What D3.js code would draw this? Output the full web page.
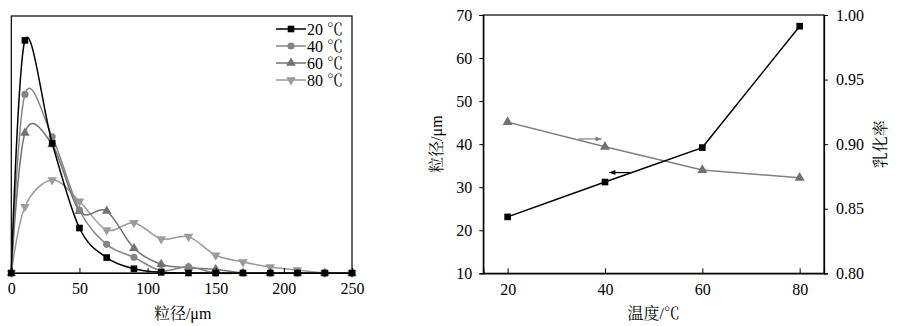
<!DOCTYPE html>
<html>
<head>
<meta charset="utf-8">
<script src="https://cdn.jsdelivr.net/npm/d3@7/dist/d3.min.js"></script>
<style>
  html, body { margin: 0; padding: 0; background: #fff; }
  svg { display: block; }
</style>
</head>
<body>
<svg id="chart" width="899" height="326"></svg>
<script>
// ---- Particle size distribution at different temperatures ----
const sizes = [0, 10, 30, 50, 70, 90, 110, 130, 150, 170, 190, 210, 230, 250];
const dist20 = [0, 18.1, 10.1, 3.5, 1.2, 0.33, 0.05, 0, 0, 0, 0, 0, 0, 0];
const dist40 = [0, 13.9, 10.6, 4.9, 2.23, 1.22, 0.18, 0.49, 0, 0, 0, 0, 0, 0];
const dist60 = [0, 10.9, 10.0, 4.8, 4.82, 1.92, 0.68, 0.41, 0.29, 0, 0, 0, 0, 0];
const dist80 = [0, 5.16, 7.24, 5.58, 3.35, 3.91, 2.65, 2.83, 1.38, 0.86, 0.47, 0.23, 0, 0];
const distLabels = ["20 \u2103", "40 \u2103", "60 \u2103", "80 \u2103"];
const sizeTicks = [0, 50, 100, 150, 200, 250];

// ---- Mean particle size and emulsification rate vs temperature ----
const temps = [20, 40, 60, 80];
const meanSize = [23.1, 31.2, 39.2, 67.4];
const emulsRate = [0.917, 0.898, 0.880, 0.874];
const tempTicks = [20, 40, 60, 80];
const sizeAxisTicks = [10, 20, 30, 40, 50, 60, 70];
const rateAxisTicks = [0.80, 0.85, 0.90, 0.95, 1.00];

const FONT = "'Liberation Serif', 'Noto Serif CJK SC', serif";
const FS = 16;

const svg = d3.select("#chart");
svg.append("rect").attr("width", 899).attr("height", 326).attr("fill", "#fff");

function styleText(sel) {
  return sel.style("font-family", FONT).style("font-size", FS + "px").style("fill", "#000");
}

// ================= Left panel =================
const L = { left: 11.3, right: 352, top: 16, bottom: 273 };
const xL = d3.scaleLinear().domain([0, 250]).range([L.left, L.right]);
const yL = d3.scaleLinear().domain([0, 20]).range([L.bottom, L.top]);

const gL = svg.append("g");

// frame
gL.append("rect")
  .attr("x", L.left).attr("y", L.top)
  .attr("width", L.right - L.left).attr("height", L.bottom - L.top)
  .attr("fill", "none").attr("stroke", "#000").attr("stroke-width", 1.2);

const seriesL = [
  { name: distLabels[0], values: dist20, color: "#000000", sym: d3.symbolSquare, size: 44, rot: 0 },
  { name: distLabels[1], values: dist40, color: "#858585", sym: d3.symbolCircle, size: 40, rot: 0 },
  { name: distLabels[2], values: dist60, color: "#727272", sym: d3.symbolTriangle, size: 40, rot: 0 },
  { name: distLabels[3], values: dist80, color: "#9b9b9b", sym: d3.symbolTriangle, size: 40, rot: 180 }
];

const lineL = d3.line()
  .x((d, i) => xL(sizes[i]))
  .y(d => yL(d))
  .curve(d3.curveCardinal.tension(0));

// draw in reverse so the black series is on top
seriesL.slice().reverse().forEach(s => {
  gL.append("path")
    .datum(s.values)
    .attr("d", lineL)
    .attr("fill", "none")
    .attr("stroke", s.color)
    .attr("stroke-width", 1.5);
  gL.selectAll(null)
    .data(s.values)
    .enter().append("path")
    .attr("d", d3.symbol().type(s.sym).size(s.size))
    .attr("transform", (d, i) => `translate(${xL(sizes[i])},${yL(d)}) rotate(${s.rot})`)
    .attr("fill", s.color);
});

// x axis with inward ticks
const axL = d3.axisBottom(xL).tickValues(sizeTicks).tickSize(-5).tickPadding(10).tickFormat(d3.format("d"));
const gAxL = gL.append("g").attr("transform", `translate(0,${L.bottom})`).call(axL);
gAxL.select(".domain").attr("stroke", "#000").attr("stroke-width", 1.2);
gAxL.selectAll(".tick line").attr("stroke", "#000");
styleText(gAxL.selectAll(".tick text"));

styleText(gL.append("text")
  .attr("x", (L.left + L.right) / 2 + 1).attr("y", 319)
  .attr("text-anchor", "middle")
  .text("粒径/μm"));

// legend
const legY = [29, 46, 63, 80];
seriesL.forEach((s, i) => {
  const g = gL.append("g").attr("transform", `translate(0,${legY[i]})`);
  g.append("line").attr("x1", 276).attr("x2", 306).attr("y1", 0).attr("y2", 0)
    .attr("stroke", s.color).attr("stroke-width", 1.5);
  g.append("path").attr("d", d3.symbol().type(s.sym).size(s.size))
    .attr("transform", `translate(291,0) rotate(${s.rot})`).attr("fill", s.color);
  styleText(g.append("text").attr("x", 307).attr("y", 5.5).text(s.name));
});

// ================= Right panel =================
const R = { left: 483.3, right: 824, top: 15, bottom: 273.3 };
const xR = d3.scaleLinear().domain([15, 85]).range([R.left, R.right]);
const ySize = d3.scaleLinear().domain([10, 70]).range([R.bottom, R.top]);
const yRate = d3.scaleLinear().domain([0.80, 1.00]).range([R.bottom, R.top]);

const gR = svg.append("g");
gR.append("rect")
  .attr("x", R.left).attr("y", R.top)
  .attr("width", R.right - R.left).attr("height", R.bottom - R.top)
  .attr("fill", "none").attr("stroke", "#000").attr("stroke-width", 1.2);

// x axis
const axRx = d3.axisBottom(xR).tickValues(tempTicks).tickSize(-5).tickPadding(10).tickFormat(d3.format("d"));
const gAxRx = gR.append("g").attr("transform", `translate(0,${R.bottom})`).call(axRx);
// left axis
const axRl = d3.axisLeft(ySize).tickValues(sizeAxisTicks).tickSize(4).tickPadding(7).tickFormat(d3.format("d"));
const gAxRl = gR.append("g").attr("transform", `translate(${R.left},0)`).call(axRl);
// right axis
const axRr = d3.axisRight(yRate).tickValues(rateAxisTicks).tickSize(4).tickPadding(8).tickFormat(d3.format(".2f"));
const gAxRr = gR.append("g").attr("transform", `translate(${R.right},0)`).call(axRr);

[gAxRx, gAxRl, gAxRr].forEach(g => {
  g.select(".domain").attr("stroke", "#000").attr("stroke-width", 1.2);
  g.selectAll(".tick line").attr("stroke", "#000");
  styleText(g.selectAll(".tick text"));
});

// emulsification rate series (right axis)
const rateColor = "#808080";
gR.append("path")
  .datum(emulsRate)
  .attr("d", d3.line().x((d, i) => xR(temps[i])).y(d => yRate(d)))
  .attr("fill", "none").attr("stroke", rateColor).attr("stroke-width", 1.5);
gR.selectAll(null).data(emulsRate).enter().append("path")
  .attr("d", d3.symbol().type(d3.symbolTriangle).size(44))
  .attr("transform", (d, i) => `translate(${xR(temps[i])},${yRate(d)})`)
  .attr("fill", "#707070");

// mean particle size series (left axis)
gR.append("path")
  .datum(meanSize)
  .attr("d", d3.line().x((d, i) => xR(temps[i])).y(d => ySize(d)))
  .attr("fill", "none").attr("stroke", "#000").attr("stroke-width", 1.5);
gR.selectAll(null).data(meanSize).enter().append("path")
  .attr("d", d3.symbol().type(d3.symbolSquare).size(44))
  .attr("transform", (d, i) => `translate(${xR(temps[i])},${ySize(d)})`)
  .attr("fill", "#000");

// arrows pointing to the axis each series belongs to
function arrow(x1, x2, y, color) {
  const dir = Math.sign(x2 - x1);
  gR.append("line").attr("x1", x1).attr("x2", x2).attr("y1", y).attr("y2", y)
    .attr("stroke", color).attr("stroke-width", 1.2);
  gR.append("path")
    .attr("d", `M${x2},${y} L${x2 - dir * 6},${y - 2.5} L${x2 - dir * 6},${y + 2.5} Z`)
    .attr("fill", color);
}
arrow(xR(34.5), xR(39.3), yRate(0.904), rateColor);
arrow(xR(45.2), xR(40.9), ySize(33.4), "#000");

// axis titles
styleText(gR.append("text")
  .attr("transform", `translate(442,${(R.top + R.bottom) / 2}) rotate(-90)`)
  .attr("text-anchor", "middle")
  .text("粒径/μm"));
styleText(gR.append("text")
  .attr("transform", `translate(886,${(R.top + R.bottom) / 2}) rotate(-90)`)
  .attr("text-anchor", "middle")
  .text("乳化率"));
styleText(gR.append("text")
  .attr("x", (R.left + R.right) / 2).attr("y", 319)
  .attr("text-anchor", "middle")
  .text("温度/℃"));
</script>
</body>
</html>
